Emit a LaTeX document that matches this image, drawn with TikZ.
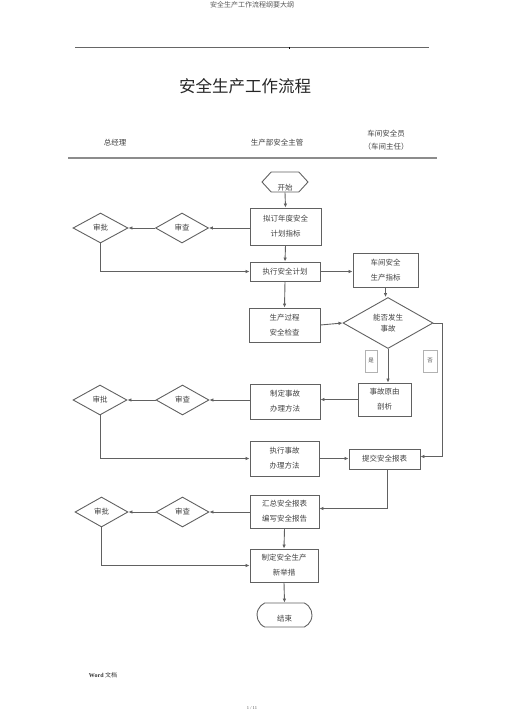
\documentclass[tikz,border=0pt]{standalone}
\usepackage{fontspec}
\setmainfont{Liberation Serif}
\newfontfamily\cjk{Noto Sans CJK SC}
\usetikzlibrary{shapes.geometric,shapes.symbols,shapes.misc,arrows.meta}

\begin{document}
\begin{tikzpicture}[x=1pt, y=-1pt,
    line/.style={draw=black!62, line width=0.9pt},
    arr/.style={line, -{Latex[length=4pt,width=3.6pt]}},
    txt/.style={font=\cjk\fontsize{7.5}{15}\selectfont, text=black!75},
    box/.style={txt, draw=black!62, line width=0.9pt, align=center, inner sep=0pt},
    chk/.style={box, diamond, minimum width=53pt, minimum height=30pt},
    tag/.style={draw=black!30, line width=0.5pt, inner sep=0pt, minimum width=12pt, minimum height=22pt,
                font=\cjk\fontsize{5.5}{6}\selectfont, text=black!70}]
    \useasboundingbox (0,0) rectangle (505,714);

    % page head
    \node[font=\cjk\fontsize{7}{8}\selectfont, text=black!65] (pagehead) at (252,5) {安全生产工作流程纲要大纲};
    \draw[black!60, line width=0.7pt] (75,47) -- (429,47);
    \fill[black] (288.5,47) rectangle (289.5,49.5);
    \node[font=\cjk\fontsize{16.5}{18}\selectfont, text=black!85] (title) at (245,86) {安全生产工作流程};

    % columns
    \node[txt] (colgm) at (115,143) {总经理};
    \node[txt] (colmgr) at (277,143) {生产部安全主管};
    \node[txt, align=center, font=\cjk\fontsize{7.5}{13}\selectfont] (colws) at (386,140.5) {车间安全员\\（车间主任）};
    \draw[black!45, line width=2.4pt] (68,158) -- (437,158);

    % nodes
    \node[box, signal, signal to=west and east, signal pointer angle=95, minimum width=46pt, minimum height=20pt,
          label={[txt, yshift=-6pt]center:开始}] (start) at (285,182) {};
    \node[box, minimum width=71pt, minimum height=37pt] (plan) at (285.5,226.5) {拟订年度安全\\计划指标};
    \node[chk] (rev1) at (182,228) {审查};
    \node[chk, minimum width=55pt] (app1) at (100.5,228) {审批};
    \node[box, minimum width=70pt, minimum height=19pt] (exec) at (285,271.5) {执行安全计划};
    \node[box, minimum width=65pt, minimum height=34pt] (ws) at (385.5,270) {车间安全\\生产指标};
    \node[box, minimum width=71pt, minimum height=34pt] (check) at (284.5,325) {生产过程\\安全检查};
    \node[box, diamond, minimum width=90pt, minimum height=51pt, font=\cjk\fontsize{7.5}{11}\selectfont] (acc) at (388,323) {能否发生\\事故};
    \node[tag] (yes) at (371,361) {是};
    \node[tag, minimum width=14pt] (no) at (430,361) {否};
    \node[box, minimum width=53pt, minimum height=33pt] (cause) at (384.5,399.5) {事故原由\\剖析};
    \node[box, minimum width=70pt, minimum height=35pt] (meth) at (285,401.5) {制定事故\\办理方法};
    \node[chk] (rev2) at (182.5,400) {审查};
    \node[chk, minimum width=54pt] (app2) at (100,400) {审批};
    \node[box, minimum width=69pt, minimum height=35pt] (doit) at (284.5,458.5) {执行事故\\办理方法};
    \node[box, minimum width=71pt, minimum height=20pt] (submit) at (384.5,459) {提交安全报表};
    \node[box, minimum width=69pt, minimum height=33pt] (sum) at (284.5,511.5) {汇总安全报表\\编写安全报告};
    \node[chk] (rev3) at (182.5,512) {审查};
    \node[chk] (app3) at (101.5,512) {审批};
    \node[box, minimum width=68pt, minimum height=33pt] (new) at (284,565.5) {制定安全生产\\新举措};
    \node[box, rounded rectangle, rounded rectangle arc length=130, minimum width=55pt, minimum height=24pt,
          label={[txt, yshift=-4pt]center:结束}] (end) at (284.5,615) {};
    \coordinate (turn) at (442,323);

    % connectors
    \draw[arr] (start.south) -- (plan.north);
    \draw[arr] (plan.west |- rev1.east) -- (rev1.east);
    \draw[arr] (rev1.west) -- (app1.east);
    \draw[arr] (app1.south) |- (exec.west);
    \draw[arr] (plan.south) -- (exec.north);
    \draw[arr] (exec.east) -- (ws.west |- exec.east);
    \draw[arr] (ws.south) -- (ws.south |- acc.north);
    \draw[arr] (exec.south) -- (check.north);
    \draw[arr] (check.east) -- (acc.west);
    \draw[arr] (acc.south) -- (acc.south |- cause.north);
    \draw[arr] (acc.east) -- (turn) |- ([yshift=2.5pt]submit.east);
    \draw[arr] (cause.west) -- (meth.east |- cause.west);
    \draw[arr] (meth.west |- rev2.east) -- (rev2.east);
    \draw[arr] (rev2.west) -- (app2.east);
    \draw[arr] (app2.south) |- (doit.west);
    \draw[arr] (doit.east) -- (submit.west |- doit.east);
    \draw[arr] ([xshift=3pt]submit.south) |- ([yshift=3pt]sum.east);
    \draw[arr] (sum.west |- rev3.east) -- (rev3.east);
    \draw[arr] (rev3.west) -- (app3.east);
    \draw[arr] (app3.south) |- (new.west);
    \draw[arr] (sum.south) -- (new.north);
    \draw[arr] (new.south) -- (end.north);

    % page foot
    \node[font=\fontsize{6}{7}\selectfont, text=black!80] (foot) at (103,675) {\textbf{Word} {\cjk 文档}};
    \node[font=\fontsize{4.5}{5}\selectfont, text=black!70] (pageno) at (252,708) {1 / 11};
\end{tikzpicture}
\end{document}
